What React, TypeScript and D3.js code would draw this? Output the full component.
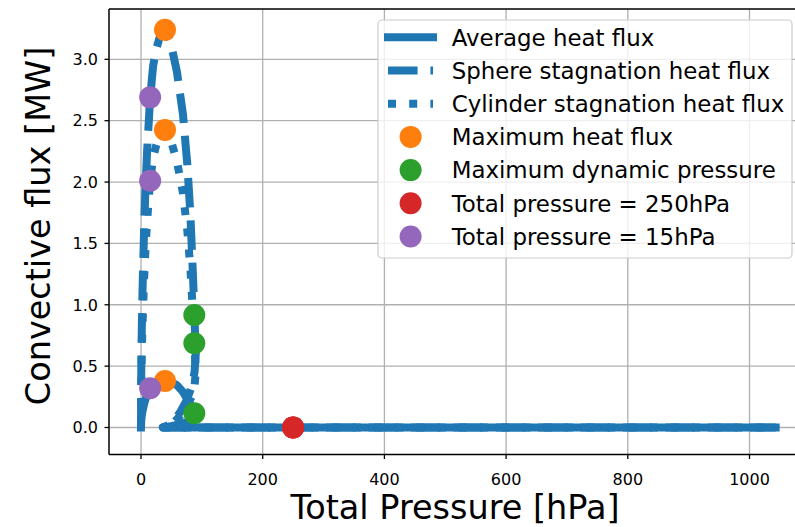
import React from "react";
import * as d3 from "d3";

const pressure = [0, 0.2, 0.5, 1, 2, 3, 5, 7, 10, 15, 20, 25, 30, 35, 39.4, 49, 59, 69, 76, 81, 84, 86.5, 87.6, 89, 90, 88, 83, 75, 65, 55, 45, 36, 60, 100, 250, 500, 800, 1043];
const sphereFlux = [0, 0.3, 0.5, 0.72, 1.0, 1.22, 1.6, 1.9, 2.25, 2.69, 2.95, 3.08, 3.17, 3.22, 3.24, 3.13, 2.9, 2.55, 2.15, 1.75, 1.4, 1.1, 0.917, 0.75, 0.6, 0.45, 0.33, 0.22, 0.13, 0.06, 0.02, 0, 0, 0, 0, 0, 0, 0];
const cylinderFlux = [0, 0.22, 0.37, 0.54, 0.75, 0.91, 1.2, 1.42, 1.68, 2.01, 2.2, 2.3, 2.37, 2.41, 2.425, 2.34, 2.17, 1.91, 1.61, 1.31, 1.05, 0.82, 0.686, 0.56, 0.45, 0.34, 0.25, 0.165, 0.1, 0.045, 0.015, 0, 0, 0, 0, 0, 0, 0];
const averageFlux = [0, 0.035, 0.06, 0.085, 0.12, 0.145, 0.19, 0.225, 0.265, 0.32, 0.35, 0.365, 0.375, 0.378, 0.379, 0.37, 0.345, 0.29, 0.23, 0.19, 0.16, 0.13, 0.116, 0.1, 0.088, 0.074, 0.06, 0.045, 0.03, 0.017, 0.007, 0, 0, 0, 0, 0, 0, 0];

const maxHeatP = [39.4, 39.4, 39.4];
const maxHeatQ = [3.24, 2.425, 0.379];
const maxDynP = [87.6, 87.6, 87.6];
const maxDynQ = [0.917, 0.686, 0.116];
const p250P = [250, 250, 250];
const p250Q = [0, 0, 0];
const p15P = [15, 15, 15];
const p15Q = [2.69, 2.01, 0.32];

const xTicks = [0, 200, 400, 600, 800, 1000];
const yTicks = [0, 0.5, 1, 1.5, 2, 2.5, 3];

const legendLabels = [
  "Average heat flux",
  "Sphere stagnation heat flux",
  "Cylinder stagnation heat flux",
  "Maximum heat flux",
  "Maximum dynamic pressure",
  "Total pressure = 250hPa",
  "Total pressure = 15hPa",
];

const BLUE = "#1f77b4";
const FONT = "DejaVu Sans, sans-serif";

export default function App() {
  const W = 795, H = 527;
  const L = 109, R = 807, T = 9, B = 454.5;
  const x = d3.scaleLinear().domain([-52.6, 1094.5]).range([L, R]);
  const y = d3.scaleLinear().domain([-0.22, 3.41]).range([B, T]);
  const lw = 8;

  const mk = (vals: number[]) =>
    d3.line<number>().x((_, i) => x(pressure[i])).y((d) => y(d)).curve(d3.curveLinear)(vals) || "";

  const scatter = [
    { p: maxHeatP, q: maxHeatQ, c: "#ff7f0e" },
    { p: maxDynP, q: maxDynQ, c: "#2ca02c" },
    { p: p250P, q: p250Q, c: "#d62728" },
    { p: p15P, q: p15Q, c: "#9467bd" },
  ];

  const legX = 378, legY = 20, legW = 414, legH = 238;
  const rowY = (i: number) => 37.3 + i * 33.2;

  return (
    <svg width={W} height={H} style={{ position: "absolute", left: 0, top: 0, background: "#fff" }} fontFamily={FONT}>
      <defs>
        <clipPath id="ax">
          <rect x={L} y={T} width={R - L} height={B - T} />
        </clipPath>
      </defs>
      <rect x={0} y={0} width={W} height={H} fill="#fff" />
      {/* grid */}
      <g stroke="#b0b0b0" strokeWidth={1.3}>
        {xTicks.map((t) => (
          <line key={"gx" + t} x1={x(t)} x2={x(t)} y1={T} y2={B} />
        ))}
        {yTicks.map((t) => (
          <line key={"gy" + t} x1={L} x2={R} y1={y(t)} y2={y(t)} />
        ))}
      </g>
      {/* lines */}
      <g clipPath="url(#ax)" fill="none" stroke={BLUE} strokeWidth={lw} strokeLinejoin="round">
        <path d={mk(averageFlux)} strokeLinecap="square" />
        <path d={mk(sphereFlux)} strokeDasharray={`${3.7 * lw} ${1.6 * lw}`} strokeLinecap="butt" />
        <path d={mk(cylinderFlux)} strokeDasharray={`${1 * lw} ${1.65 * lw}`} strokeLinecap="butt" />
      </g>
      {/* scatter */}
      <g clipPath="url(#ax)">
        {scatter.map((s, si) =>
          s.p.map((p, i) => <circle key={si + "-" + i} cx={x(p)} cy={y(s.q[i])} r={11} fill={s.c} />)
        )}
      </g>
      {/* spines */}
      <g stroke="#000" strokeWidth={1.5} fill="none">
        <line x1={L} x2={L} y1={T} y2={B} />
        <line x1={L} x2={R} y1={B} y2={B} />
        <line x1={L} x2={R} y1={T} y2={T} />
        <line x1={R} x2={R} y1={T} y2={B} />
      </g>
      {/* x ticks */}
      {xTicks.map((t) => (
        <g key={"xt" + t}>
          <line x1={x(t)} x2={x(t)} y1={B} y2={B + 4.5} stroke="#000" strokeWidth={1.3} />
          <text x={x(t)} y={485} textAnchor="middle" fontSize={16} fill="#000">
            {t}
          </text>
        </g>
      ))}
      {/* y ticks */}
      {yTicks.map((t) => (
        <g key={"yt" + t}>
          <line x1={L - 4.5} x2={L} y1={y(t)} y2={y(t)} stroke="#000" strokeWidth={1.3} />
          <text x={L - 11} y={y(t)} dy="0.36em" textAnchor="end" fontSize={16} fill="#000">
            {t.toFixed(1)}
          </text>
        </g>
      ))}
      {/* axis labels */}
      <text x={(L + R) / 2 - 3} y={519} textAnchor="middle" fontSize={33.5} fill="#000">
        Total Pressure [hPa]
      </text>
      <text transform={`translate(50,226) rotate(-90)`} textAnchor="middle" fontSize={33.5} fill="#000">
        Convective flux [MW]
      </text>
      {/* legend */}
      <rect x={legX} y={legY} width={legW} height={legH} rx={4} fill="#fff" fillOpacity={0.8} stroke="#cccccc" strokeWidth={1.2} />
      <g fill="none" stroke={BLUE} strokeWidth={lw}>
        <line x1={388} x2={433} y1={rowY(0)} y2={rowY(0)} strokeLinecap="square" />
        <line x1={388} x2={433} y1={rowY(1)} y2={rowY(1)} strokeDasharray={`${3.7 * lw} ${1.6 * lw}`} />
        <line x1={388} x2={433} y1={rowY(2)} y2={rowY(2)} strokeDasharray={`${1 * lw} ${1.65 * lw}`} />
      </g>
      {scatter.map((s, i) => (
        <circle key={"lm" + i} cx={410.6} cy={rowY(i + 3)} r={11} fill={s.c} />
      ))}
      {legendLabels.map((lab, i) => (
        <text key={"lt" + i} x={451.7} y={rowY(i)} dy="0.36em" fontSize={22.9} fill="#000">
          {lab}
        </text>
      ))}
    </svg>
  );
}
